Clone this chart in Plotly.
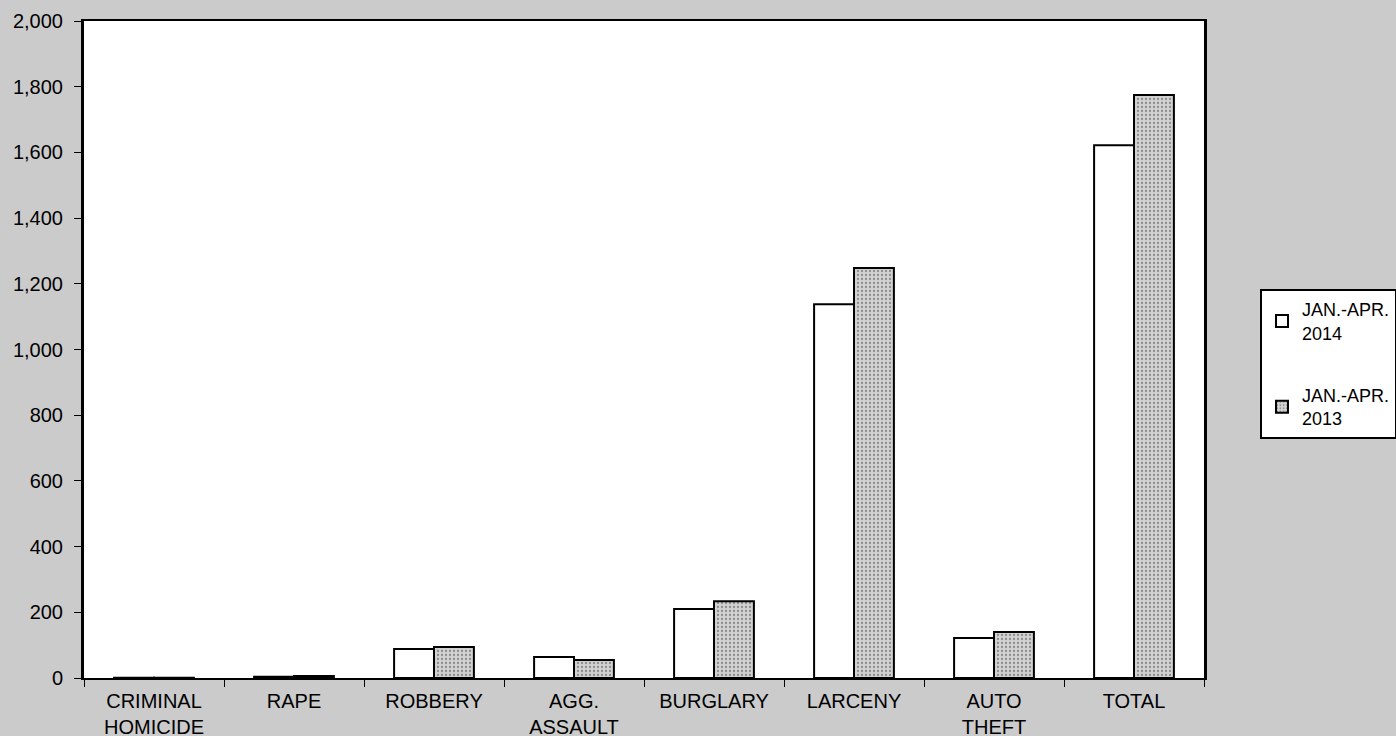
import plotly.graph_objects as go

categories = ["CRIMINAL<br>HOMICIDE", "RAPE", "ROBBERY", "AGG.<br>ASSAULT",
              "BURGLARY", "LARCENY", "AUTO<br>THEFT", "TOTAL"]
values_2014 = [1, 4, 88, 64, 210, 1138, 122, 1622]
values_2013 = [1, 6, 94, 55, 234, 1248, 140, 1775]
series_names = ["JAN.-APR.<br>2014", "JAN.-APR.<br>2013"]
y_ticks = [0, 200, 400, 600, 800, 1000, 1200, 1400, 1600, 1800, 2000]
y_tick_labels = ["0", "200", "400", "600", "800", "1,000", "1,200", "1,400", "1,600", "1,800", "2,000"]

FONT = "Liberation Sans, Arial, sans-serif"

fig = go.Figure()
fig.add_trace(go.Bar(
    x=categories, y=values_2014, name=series_names[0], legendgroup="a",
    marker=dict(color="white", line=dict(color="black", width=2)),
))
fig.add_trace(go.Bar(
    x=categories, y=values_2013, name=series_names[1], legendgroup="b",
    marker=dict(color="#c4c4c4", line=dict(color="black", width=2),
                pattern=dict(shape=".", fgcolor="#444444", bgcolor="#d2d2d2",
                             size=4, solidity=0.25)),
))

fig.update_layout(
    width=1396, height=736,
    paper_bgcolor="#cbcbcb", plot_bgcolor="white",
    margin=dict(l=84, r=192, t=21, b=58, autoexpand=False),
    barmode="group", bargap=0.43, bargroupgap=0,
    font=dict(family=FONT, size=20, color="black"),
    showlegend=True,
    legend=dict(
        x=1.05, xanchor="left", y=0.592, yanchor="top",
        bgcolor="white", bordercolor="black", borderwidth=2,
        font=dict(family=FONT, size=18, color="black"),
        traceorder="grouped", tracegroupgap=36,
        itemwidth=30,
    ),
    xaxis=dict(
        showline=True, linecolor="black", linewidth=2, mirror=True,
        ticks="outside", ticklen=7, tickcolor="black", tickson="boundaries",
        ticklabelstandoff=4,
        showgrid=False, tickfont=dict(family=FONT, size=20),
    ),
    yaxis=dict(
        range=[0, 2000], tickvals=y_ticks, ticktext=y_tick_labels,
        showline=True, linecolor="black", linewidth=3, mirror=True,
        ticks="outside", ticklen=7, tickcolor="black", ticklabelstandoff=7,
        showgrid=False, zeroline=False, tickfont=dict(family=FONT, size=20),
    ),
)

fig.write_html("out.html", config={"displayModeBar": False},
               post_script="document.body.style.margin='0';document.body.style.overflow='hidden';")
